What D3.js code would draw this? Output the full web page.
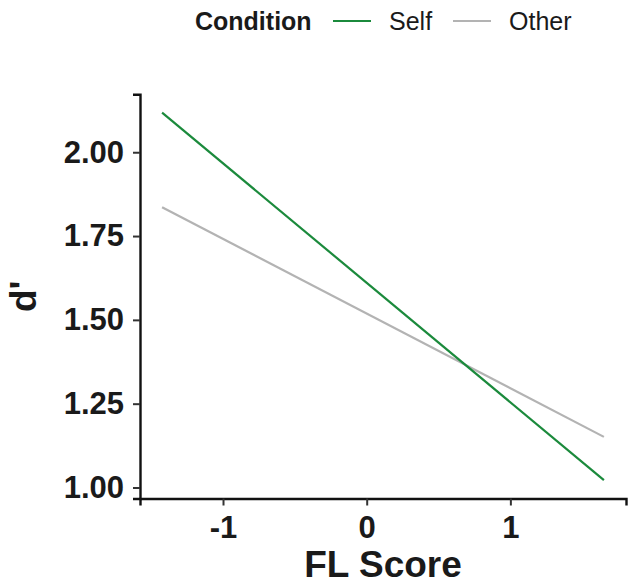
<!DOCTYPE html>
<html><head><meta charset="utf-8">
<script src="https://cdn.jsdelivr.net/npm/d3@7"></script>
<style>
body{margin:0;background:#fff;}
svg text{font-family:"Liberation Sans",Arial,Helvetica,sans-serif;}
</style></head>
<body><svg id="c" width="628" height="585"></svg>
<script>
const conditions = ["Self", "Other"];
const colors = ["#1b8a3c", "#b3b3b3"];
const flScore = [-1.424, 1.651];
const selfDprime = [2.118, 1.022];
const otherDprime = [1.836, 1.151];
const xTicks = [-1, 0, 1];
const yTicks = [1.00, 1.25, 1.50, 1.75, 2.00];

const series = [
  {name: conditions[0], color: colors[0], values: selfDprime},
  {name: conditions[1], color: colors[1], values: otherDprime}
];

const svg = d3.select("#c");
const pLeft = 140, pRight = 626, pTop = 94.3, pBottom = 498.5;

const xr = d3.extent(flScore), xpad = (xr[1]-xr[0])*0.05;
const allY = selfDprime.concat(otherDprime);
const yr = d3.extent(allY), ypad = (yr[1]-yr[0])*0.05;
const x = d3.scaleLinear().domain([xr[0]-xpad, xr[1]+xpad]).range([pLeft, pRight]);
const y = d3.scaleLinear().domain([yr[0]-ypad, yr[1]+ypad]).range([pBottom, pTop]);

// lines
const line = d3.line().x((d,i)=>x(flScore[i])).y(d=>y(d));
series.slice().reverse().forEach(s=>{
  svg.append("path").datum(s.values).attr("d", line)
    .attr("fill","none").attr("stroke", s.color).attr("stroke-width", 2.2);
});

// axes
const xAxis = svg.append("g").attr("transform",`translate(0,${pBottom})`)
  .call(d3.axisBottom(x).tickValues(xTicks).tickFormat(d3.format("d")).tickSizeOuter(0).tickSize(7).tickPadding(10));
const yAxis = svg.append("g").attr("transform",`translate(${pLeft},0)`)
  .call(d3.axisLeft(y).tickValues(yTicks).tickFormat(d3.format(".2f")).tickSizeOuter(0).tickSize(7).tickPadding(9));
[xAxis,yAxis].forEach(g=>{
  g.select(".domain").attr("stroke","#111").attr("stroke-width",2.4);
  g.selectAll(".tick line").attr("stroke","#333").attr("stroke-width",2);
  g.selectAll(".tick text").attr("fill","#1a1a1a").attr("font-size",31).attr("font-weight","bold")
   .style("font-family",'"Liberation Sans",Arial,sans-serif');
});
xAxis.selectAll(".tick text").text(d=> d<0 ? "-"+Math.abs(d) : d);

// axis titles
svg.append("text").attr("x",(pLeft+pRight)/2 - 0).attr("y",577).attr("text-anchor","middle")
  .attr("font-size",37).attr("font-weight","bold").attr("fill","#1a1a1a").text("FL Score");
svg.append("text").attr("transform",`translate(36,${(pTop+pBottom)/2}) rotate(-90)`).attr("text-anchor","middle")
  .attr("font-size",37).attr("font-weight","bold").attr("fill","#1a1a1a").text("d'");

// legend
const lg = svg.append("g");
lg.append("text").attr("x",195).attr("y",29.5).attr("font-size",25).attr("font-weight","bold").attr("fill","#1a1a1a").text("Condition");
const lx = [333, 453], tx = [389, 509];
series.forEach((s,i)=>{
  lg.append("line").attr("x1",lx[i]).attr("x2",lx[i]+38).attr("y1",21).attr("y2",21)
    .attr("stroke",s.color).attr("stroke-width",2.2);
  lg.append("text").attr("x",tx[i]).attr("y",29.5).attr("font-size",25).attr("fill","#1a1a1a").text(s.name);
});
</script></body></html>
